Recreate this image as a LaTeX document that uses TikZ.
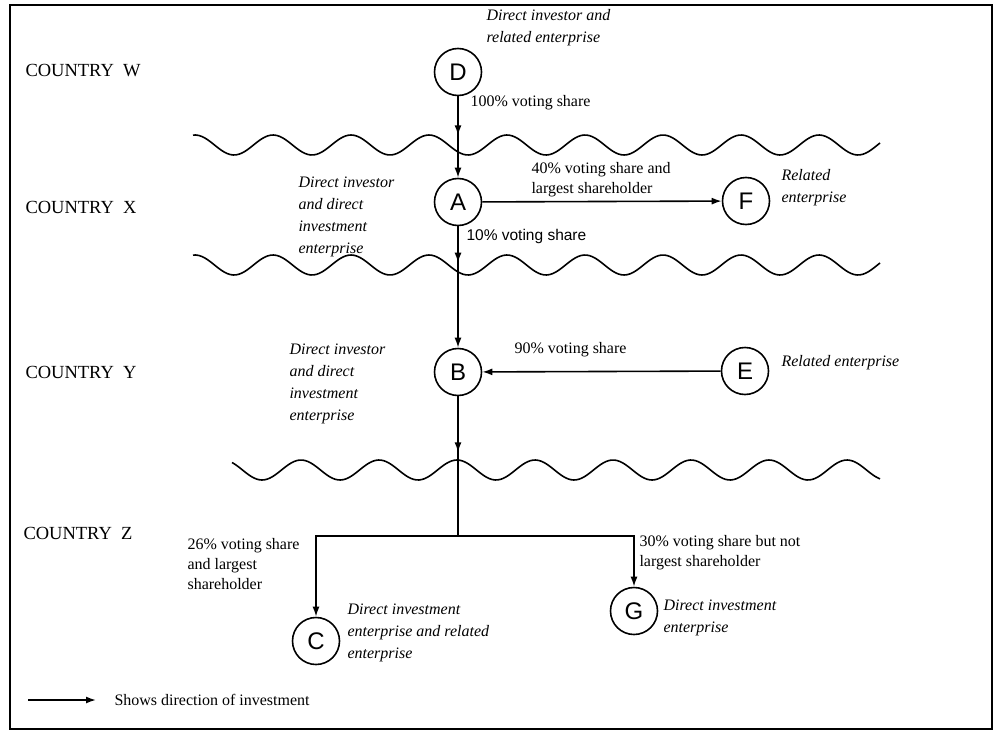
\documentclass[tikz,border=0pt]{standalone}
\usepackage{fontspec}
\setmainfont{Liberation Serif}
\newfontfamily\letterfont{Liberation Sans}
\usetikzlibrary{arrows.meta, decorations.markings}
\newcommand{\borderwave}[4]{
	\draw[line width=1.6pt] plot[domain=#1:#2, samples=240, smooth] (\x, {#3 - 10*cos((\x-#4)/78*360)});
}

\begin{document}
\begin{tikzpicture}[x=1pt, y=-1pt,
		firm/.style={circle, draw, line width=1.6pt, minimum size=47pt, inner sep=0pt, font=\letterfont\fontsize{24}{24}\selectfont},
		country/.style={anchor=west, font=\fontsize{18.5}{18.5}\selectfont},
		role/.style={anchor=west, align=left, font=\itshape\fontsize{16}{22}\selectfont},
		share/.style={anchor=west, align=left, font=\fontsize{16}{20}\selectfont},
		invest/.style={line width=1.6pt, -{Latex[length=10pt,width=7pt]}},
		midarrow/.style={postaction={decorate}, decoration={markings, mark=at position #1 with {\arrow{Latex[length=10pt,width=7pt]}}}}]
				\useasboundingbox (0,0) rectangle (995,733);
				\draw[line width=1.6pt] (10,5) rectangle (992,729);
				\borderwave{193}{880}{145}{195}
				\borderwave{193}{880}{265}{195}
				\borderwave{232}{880}{470}{457}
				\node[country] (cw) at (22,71) {COUNTRY\enspace W};
				\node[country] (cx) at (22,207) {COUNTRY\enspace X};
				\node[country] (cy) at (22,372) {COUNTRY\enspace Y};
				\node[country] (cz) at (20,533) {COUNTRY\enspace Z};
				\node[firm] (D) at (458,72) {D};
				\node[firm] (A) at (458,202) {A};
				\node[firm] (B) at (458,372) {B};
				\node[firm] (F) at (746,201) {F};
				\node[firm] (E) at (745,371) {E};
				\node[firm] (C) at (316,641) {C};
				\node[firm] (G) at (634,611) {G};
				\node[role] (dnote) at (483,28) {Direct investor and\\related enterprise};
				\node[role] (anote) at (295,217) {Direct investor\\and direct\\investment\\enterprise};
				\node[role] (bnote) at (286,384) {Direct investor\\and direct\\investment\\enterprise};
				\node[role] (fnote) at (778,188) {Related\\enterprise};
				\node[role] (enote) at (778,363) {Related enterprise};
				\node[role] (cnote) at (344,633) {Direct investment\\enterprise and related\\enterprise};
				\node[role] (gnote) at (660,618) {Direct investment\\enterprise};
				\node[share] (sDA) at (467,103) {100\% voting share};
				\node[share] (sAF) at (528,180) {40\% voting share and\\largest shareholder};
				\node[share, font=\letterfont\fontsize{15.5}{15.5}\selectfont] (sAB) at (463,236) {10\% voting share};
				\node[share] (sEB) at (511,350) {90\% voting share};
				\node[share] (sC) at (184,564) {26\% voting share\\and largest\\shareholder};
				\node[share] (sG) at (636,553) {30\% voting share but not\\largest shareholder};
				\coordinate (Zjoin) at (458,460);
				\coordinate (Zfork) at (458,536);
				\draw[invest, midarrow=0.48] (D) -- (A);
				\draw[invest, midarrow=0.30] (A) -- (B);
				\draw[invest] (A) -- (F);
				\draw[invest] (E) -- (B);
				\draw[line width=1.6pt, midarrow=0.88] (B) -- (Zjoin);
				\draw[line width=1.6pt] (Zjoin) -- (Zfork);
				\draw[invest] (Zfork) -| (C);
				\draw[invest] (Zfork) -| (G);
				\coordinate (legA) at (28,700);
				\coordinate (legB) at (96,700);
				\draw[invest] (legA) -- (legB);
				\node[share] (legtext) at (111,700) {Shows direction of investment};
\end{tikzpicture}
\end{document}
